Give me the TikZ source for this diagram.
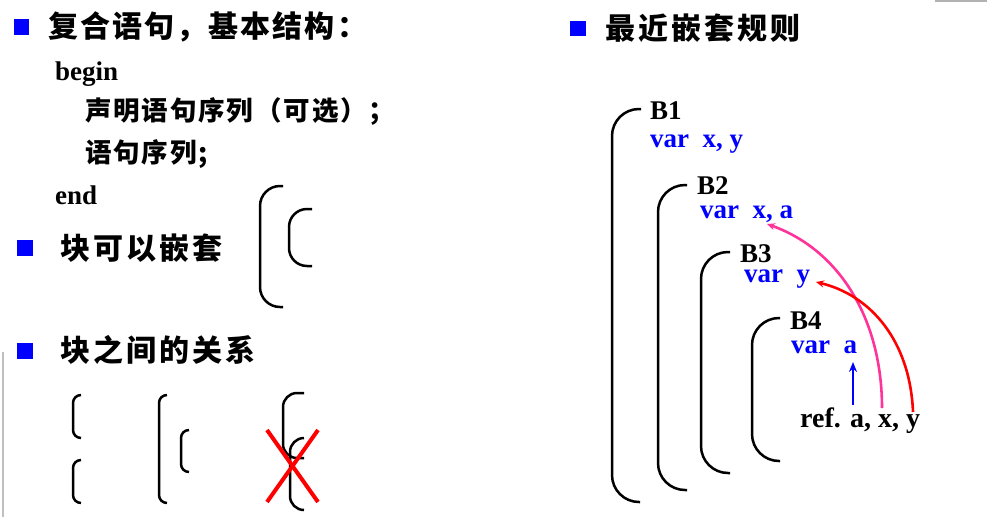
\documentclass[tikz,border=0pt]{standalone}
\usepackage{fontspec}
\setmainfont{Liberation Serif}
\newfontfamily\cjk[LetterSpace=7]{Noto Sans CJK SC}
\newfontfamily\cjkA[LetterSpace=7]{Noto Sans CJK SC}
\newfontfamily\cjkB[LetterSpace=10]{Noto Sans CJK SC}
\usetikzlibrary{arrows.meta}
\definecolor{pinkarr}{RGB}{255,51,153}
\begin{document}
\begin{tikzpicture}[x=1pt,y=-1pt,
  bullet/.style={fill=blue,draw=none,inner sep=0,minimum size=15.5pt},
  brk/.style={line width=2.5pt,rounded corners=#1},
  cjkT/.style={anchor=west,inner sep=0,font=\cjkA\bfseries\fontsize{30}{36}\selectfont},
  cjkS/.style={anchor=west,inner sep=0,font=\cjkB\bfseries\fontsize{30}{36}\selectfont},
  cjkM/.style={anchor=west,inner sep=0,font=\cjk\bfseries\fontsize{26.5}{32}\selectfont},
  kw/.style={anchor=base west,inner sep=0,font=\bfseries\fontsize{27}{32}\selectfont},
  blab/.style={kw,text height=0.68em,text depth=0pt},
  bv/.style={kw,text=blue,text height=0.48em,text depth=0.2em},
  arr/.style={line width=2.6pt,-{Stealth[length=8pt,width=7pt]}}]
\useasboundingbox (0,0) rectangle (987,517);
% artifacts
\draw[gray!50,line width=1.5pt] (3,352) -- (3,517);
\draw[gray!60,line width=1.5pt] (935,1) -- (987,1);
% left column
\node[bullet] (q1) at (21.5,27) {};
\node[cjkT] (t1) at (48,27) {复合语句，基本结构：};
\node[kw] (kbegin) at (55,80) {begin};
\node[cjkM] (decl) at (85,111) {声明语句序列（可选）；};
\node[cjkM] (stmts) at (85,154) {语句序列;};
\node[kw] (kend) at (55,204) {end};
\node[bullet] (q2) at (25,248) {};
\node[cjkS] (t2) at (60,248) {块可以嵌套};
\node[bullet] (q3) at (25,351) {};
\node[cjkS] (t3) at (60,350) {块之间的关系};
% nesting brackets
\draw[brk=20] (283,186) -- (260,186) -- (260,307) -- (283,307);
\draw[brk=18] (312,209) -- (289,209) -- (289,266) -- (312,266);
% relations
\draw[brk=8] (81,395) -- (73,395) -- (73,438) -- (81,438);
\draw[brk=8] (81,460) -- (73,460) -- (73,503) -- (81,503);
\draw[brk=8] (167,395) -- (159,395) -- (159,503) -- (167,503);
\draw[brk=8] (189,430) -- (181,430) -- (181,472) -- (189,472);
\draw[brk=14] (304,393) -- (283,393) -- (283,458) -- (304,458);
\draw[brk=14] (304,438) -- (290,438) -- (290,510) -- (304,510);
\draw[red,line width=4pt] (267,430) -- (318,502);
\draw[red,line width=4pt] (318,430) -- (267,502);
% right column
\node[bullet] (q4) at (578,28.5) {};
\node[cjkS] (t4) at (605,28) {最近嵌套规则};
\draw[brk=27] (641,109) -- (612,109) -- (612,502) -- (640,502);
\draw[brk=27] (687,185) -- (658,185) -- (658,490) -- (687,490);
\draw[brk=27] (730,252) -- (701,252) -- (701,473) -- (730,473);
\draw[brk=27] (780,318) -- (752,318) -- (752,461) -- (780,461);
\node[blab] (B1) at (650,119) {B1};
\node[bv] (v1) at (650,147) {var~~x, y};
\node[blab] (B2) at (697,194) {B2};
\node[bv] (v2) at (700,218) {var~~x, a};
\node[blab] (B3) at (740,262) {B3};
\node[bv] (v3) at (744,282) {var~~y};
\node[blab] (B4) at (790,329) {B4};
\node[bv] (v4) at (791,353) {var~~a};
\node[kw,font=\bfseries\fontsize{28}{32}\selectfont] (ref) at (800,427) {ref. a, x, y};
\coordinate (ra) at (853,405);
\coordinate (va) at (853,362);
\coordinate (rx) at (882,408);
\coordinate (vx) at (767,224);
\coordinate (ry) at (913,412);
\coordinate (vy) at (816,282);
\draw[blue,line width=2.6pt,-{Stealth[length=10pt,width=8pt]}] (ra) -- (va);
\draw[arr,pinkarr] (rx) .. controls (882,320) and (840,250) .. (vx);
\draw[arr,red] (ry) .. controls (910,340) and (870,295) .. (vy);
\end{tikzpicture}
\end{document}
